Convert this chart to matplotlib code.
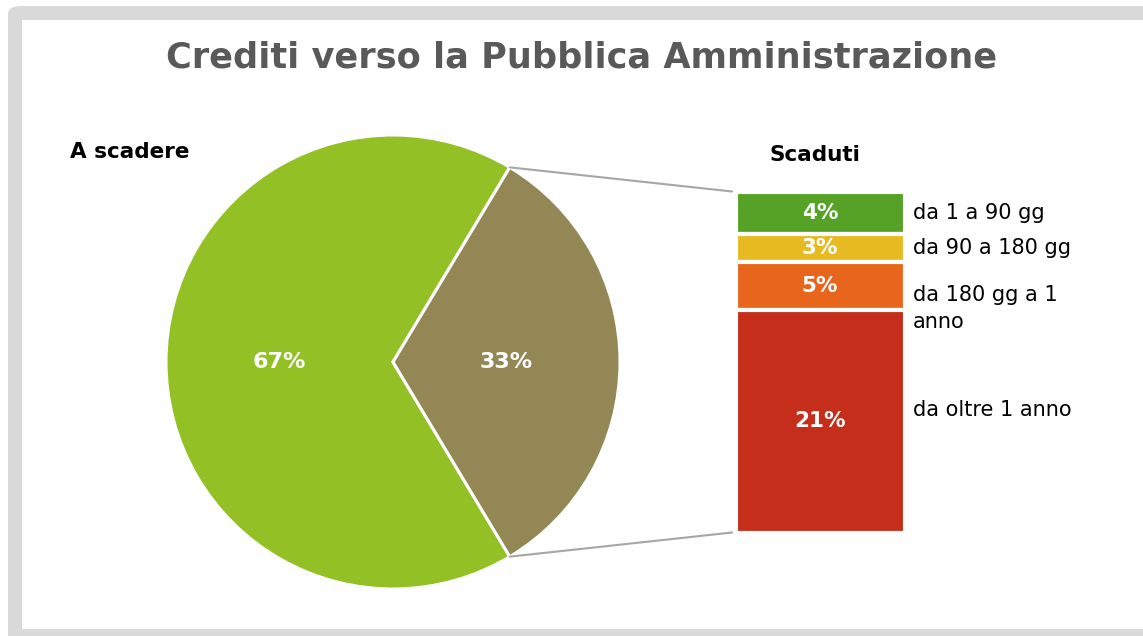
import matplotlib
matplotlib.use("Agg")
import matplotlib.pyplot as plt
from matplotlib.patches import FancyBboxPatch, Rectangle, ConnectionPatch
import numpy as np

# data
pie_labels = ["A scadere", "Scaduti"]
pie_values = [67.2, 32.8]
pie_colors = ["#93C125", "#928755"]

bar_labels = ["da 1 a 90 gg", "da 90 a 180 gg", "da 180 gg a 1\nanno", "da oltre 1 anno"]
bar_values = [4.1, 2.7, 4.6, 21.4]
bar_colors = ["#55A227", "#E8BA22", "#E8661C", "#C42E1A"]
# vertical nudge of the category labels, in pixels (down is positive)
label_nudge = [0, 0, 22, -11]

title = "Crediti verso la Pubblica Amministrazione"

W, H = 1143, 636
fig = plt.figure(figsize=(W / 100, H / 100), dpi=100)
fig.patch.set_facecolor("white")


def fx(x):
    return x / W


def fy(y):
    return 1 - y / H


# frame around the chart
fig.patches.append(FancyBboxPatch((fx(8), fy(700)), fx(1300) - fx(8), fy(6) - fy(700),
                                  boxstyle="round,pad=0,rounding_size=0.012",
                                  transform=fig.transFigure, facecolor="#D9D9D9",
                                  edgecolor="none", zorder=-2))
fig.patches.append(Rectangle((fx(22), fy(629)), fx(1300) - fx(22), fy(20) - fy(629),
                             transform=fig.transFigure, facecolor="white",
                             edgecolor="none", zorder=-1))

fig.text(fx(582), fy(57), title, ha="center", va="center", fontsize=25.3,
         fontweight="bold", color="#595959")

# pie
cx, cy, r = 393, 362, 227
ax_pie = fig.add_axes([fx(cx - r), fy(cy + r), fx(2 * r), fy(cy - r) - fy(cy + r)])
start = pie_values[1] / sum(pie_values) * 180
wedges, _ = ax_pie.pie(pie_values, colors=pie_colors, startangle=start, radius=1,
                       wedgeprops=dict(edgecolor="white", linewidth=2.2))
ax_pie.set_xlim(-1, 1)
ax_pie.set_ylim(-1, 1)
for w, v in zip(wedges, pie_values):
    ang = np.deg2rad((w.theta1 + w.theta2) / 2)
    ax_pie.text(0.5 * np.cos(ang), 0.5 * np.sin(ang), f"{round(v)}%", ha="center",
                va="center", color="white", fontsize=16, fontweight="bold")

fig.text(fx(70), fy(152), pie_labels[0], ha="left", va="center", fontsize=15.5,
         fontweight="bold", color="black")

# bar of pie
bx0, bx1, by0, by1 = 735.5, 904.5, 191.5, 532.5
ax_bar = fig.add_axes([fx(bx0), fy(by1), fx(bx1) - fx(bx0), fy(by0) - fy(by1)])
total = sum(bar_values)
per_px = total / (by1 - by0)
bottom = total
for v, c, lab, nudge in zip(bar_values, bar_colors, bar_labels, label_nudge):
    bottom -= v
    ax_bar.bar(0, v, width=1, bottom=bottom, color=c, edgecolor="white", linewidth=3)
    ax_bar.text(0, bottom + v / 2, f"{round(v)}%", ha="center", va="center",
                color="white", fontsize=15.5, fontweight="bold")
    ax_bar.text(0.55, bottom + v / 2 - nudge * per_px, lab, ha="left", va="center",
                fontsize=15, color="black", clip_on=False, linespacing=1.45)
ax_bar.set_xlim(-0.5, 0.5)
ax_bar.set_ylim(0, total)
ax_bar.axis("off")

fig.text(fx(815), fy(155), pie_labels[1], ha="center", va="center", fontsize=15.5,
         fontweight="bold", color="black")

# connector lines
th = np.deg2rad(wedges[1].theta2)
con = ConnectionPatch(xyA=(np.cos(th), np.sin(th)), coordsA=ax_pie.transData,
                      xyB=(-0.52, total), coordsB=ax_bar.transData,
                      color="#A6A6A6", linewidth=1.5)
fig.add_artist(con)
th = np.deg2rad(wedges[1].theta1)
con = ConnectionPatch(xyA=(np.cos(th), np.sin(th)), coordsA=ax_pie.transData,
                      xyB=(-0.52, 0), coordsB=ax_bar.transData,
                      color="#A6A6A6", linewidth=1.5)
fig.add_artist(con)

fig.savefig("out.png", dpi=100)
